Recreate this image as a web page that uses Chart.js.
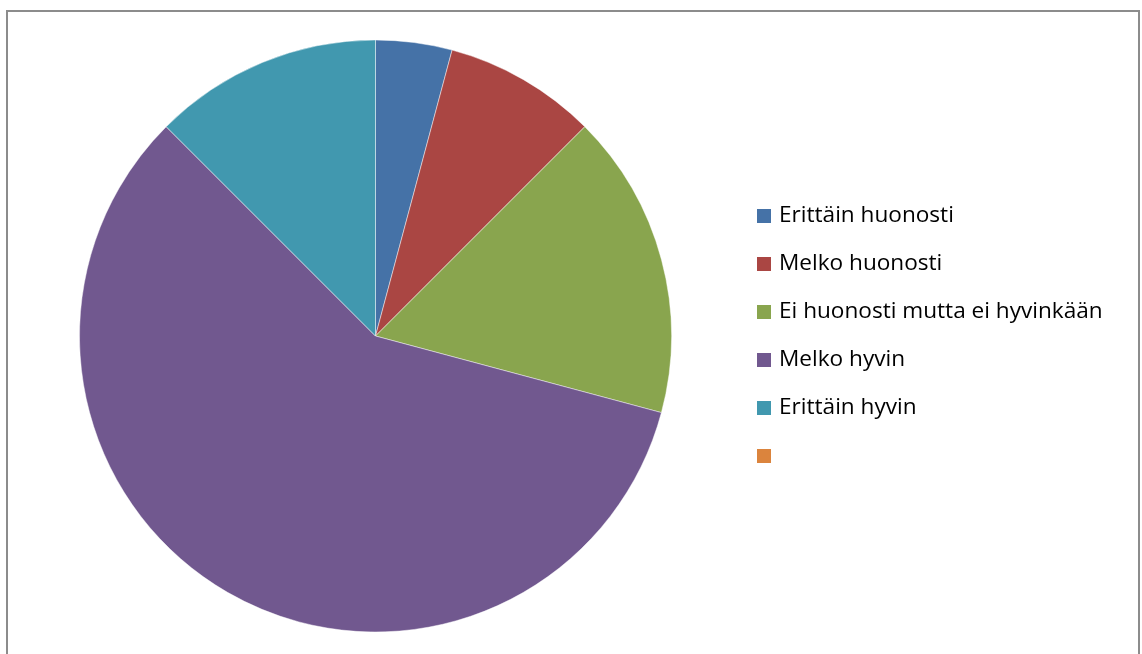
<!DOCTYPE html>
<html>

<head>
    <meta charset="utf-8">
    <title>Pie</title>
    <script src="https://cdn.jsdelivr.net/npm/chart.js@4.4.1/dist/chart.umd.min.js"></script>
    <style>
    html,
    body {
        margin: 0;
        padding: 0;
        background: #fff;
    }
    </style>
</head>

<body>
    <canvas id="pie" width="1142" height="654"></canvas>
    <script>
    const labels = ['Erittäin huonosti', 'Melko huonosti', 'Ei huonosti mutta ei hyvinkään', 'Melko hyvin', 'Erittäin hyvin', ''];
    const counts = [1, 2, 4, 14, 3, 0];
    const colors = ['#4572a7', '#aa4643', '#89a54e', '#71588f', '#4198af', '#db843d'];

    // outer frame of the chart
    const frame = {
        id: 'frame',
        beforeDraw(chart) {
            const c = chart.ctx;
            c.save();
            c.strokeStyle = '#8c8c8c';
            c.lineWidth = 2;
            c.beginPath();
            c.moveTo(7, 700);
            c.lineTo(7, 11);
            c.lineTo(1139, 11);
            c.lineTo(1139, 700);
            c.stroke();
            c.restore();
        }
    };

    // legend to the right, one row per category
    const sideLegend = {
        id: 'sideLegend',
        afterDraw(chart) {
            const c = chart.ctx;
            const ds = chart.data.datasets[0];
            c.save();
            c.font = '22.6px "Open Sans", "Liberation Sans", sans-serif';
            c.textBaseline = 'middle';
            chart.data.labels.forEach((lab, i) => {
                const y = 216 + i * 48;
                c.fillStyle = ds.backgroundColor[i];
                c.fillRect(757, y - 7, 14, 14);
                c.fillStyle = '#000';
                c.fillText(lab, 779, y);
            });
            c.restore();
        }
    };

    new Chart(document.getElementById('pie'), {
        type: 'pie',
        data: {
            labels: labels,
            datasets: [{
                data: counts,
                backgroundColor: colors,
                borderColor: 'rgba(255,255,255,0.45)',
                borderWidth: 1
            }]
        },
        options: {
            responsive: false,
            animation: false,
            layout: {
                padding: { left: 79, top: 39, right: 470, bottom: 21 }
            },
            plugins: {
                legend: { display: false },
                tooltip: { enabled: false }
            }
        },
        plugins: [frame, sideLegend]
    });
    </script>
</body>

</html>
